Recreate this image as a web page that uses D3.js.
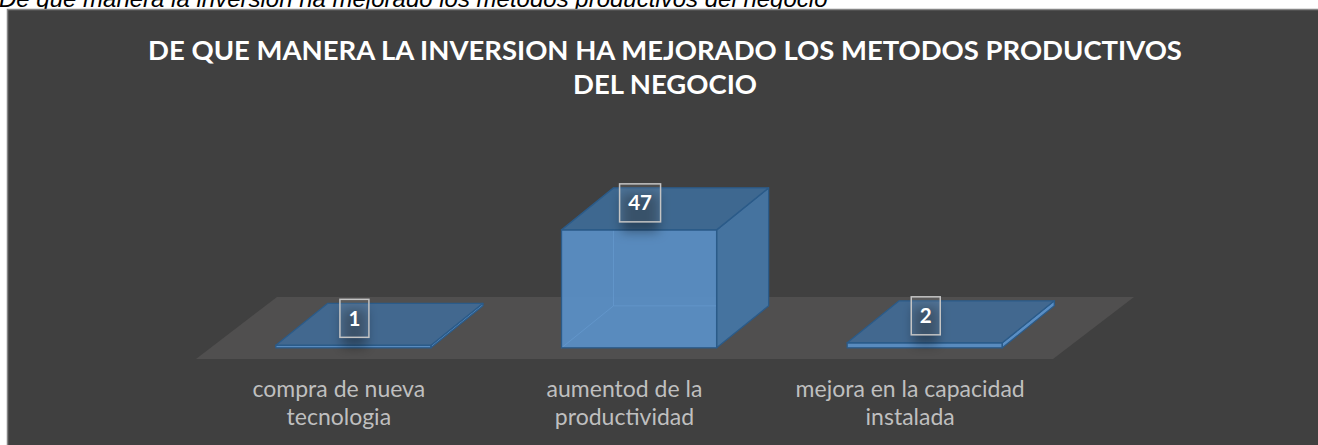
<!DOCTYPE html>
<html>
<head>
<meta charset="utf-8">
<script src="https://cdn.jsdelivr.net/npm/d3@7"></script>
<style>
    html, body { margin: 0; padding: 0; background: #fff; overflow: hidden; }
    svg { display: block; }
</style>
</head>
<body>
<svg id="chart" width="1318" height="445"></svg>
<script>
// chart data
var caption    = 'De que manera la inversion ha mejorado los metodos productivos del negocio';
var titleLines = ['DE QUE MANERA LA INVERSION HA MEJORADO LOS METODOS PRODUCTIVOS', 'DEL NEGOCIO'];
var categories = ['compra de nueva tecnologia', 'aumentod de la productividad', 'mejora en la capacidad instalada'];
var values     = [1, 47, 2];
var valueMax   = 50;

(function (d3) {
    'use strict';

    var WIDTH        = 1318,
        HEIGHT       = 445,
        FLOOR_LEFT   = 196,
        FLOOR_RIGHT  = 1053,
        FLOOR_BOTTOM = 359,
        FLOOR_DX     = 81,
        FLOOR_DY     = -62,
        BAR_FRONT    = 0.18,   // depth fraction where the bar front sits
        BAR_DX       = 52,
        BAR_DY       = -42,
        BAR_RATIO    = 0.543,
        FONT         = 'Lato, "Open Sans", sans-serif';

    var svg = d3.select('#chart');

    var defs = svg.append('defs');
    defs.append('filter')
        .attr('id', 'label-shadow')
        .attr('x', '-50%').attr('y', '-50%')
        .attr('width', '200%').attr('height', '200%')
        .append('feGaussianBlur')
        .attr('stdDeviation', 6);

    // caption above the chart (its top is cut off, as in the document)
    svg.append('text')
        .attr('x', -1)
        .attr('y', 7)
        .attr('font-family', '"Liberation Sans", Arial, sans-serif')
        .attr('font-style', 'italic')
        .attr('font-size', 24)
        .attr('fill', '#000')
        .text(caption);

    // chart area
    svg.append('rect')
        .attr('x', 7.5)
        .attr('y', 9.5)
        .attr('width', WIDTH)
        .attr('height', HEIGHT)
        .attr('fill', '#404040')
        .attr('stroke', '#858585')
        .attr('stroke-width', 1.5);

    // title, fitted to the width of the first line
    var titleGroup = svg.append('g');
    titleLines.forEach(function (line, i) {
        titleGroup.append('text')
            .attr('x', 665)
            .attr('y', 60 + 34 * i)
            .attr('text-anchor', 'middle')
            .attr('font-family', FONT)
            .attr('font-weight', 'bold')
            .attr('font-size', 26)
            .attr('fill', '#fff')
            .text(line);
    });
    var firstWidth = titleGroup.select('text').node().getComputedTextLength();
    titleGroup.selectAll('text').attr('font-size', 26 * 1034 / firstWidth);

    var x = d3.scaleBand()
        .domain(categories)
        .range([FLOOR_LEFT, FLOOR_RIGHT])
        .padding(0);

    var y = d3.scaleLinear()
        .domain([0, valueMax])
        .range([0, 125.5]);

    // floor
    svg.append('path')
        .attr('d', d3.line()([
            [FLOOR_LEFT, FLOOR_BOTTOM],
            [FLOOR_RIGHT, FLOOR_BOTTOM],
            [FLOOR_RIGHT + FLOOR_DX, FLOOR_BOTTOM + FLOOR_DY],
            [FLOOR_LEFT + FLOOR_DX, FLOOR_BOTTOM + FLOOR_DY]
        ]) + 'Z')
        .attr('fill', '#504f4f');

    var barWidth = x.bandwidth() * BAR_RATIO,
        baseY    = FLOOR_BOTTOM + FLOOR_DY * BAR_FRONT,
        shiftX   = FLOOR_DX * BAR_FRONT;

    function poly(points) {
        return d3.line()(points) + 'Z';
    }

    var bars = svg.selectAll('g.bar')
        .data(categories)
        .enter()
        .append('g')
        .attr('class', 'bar');

    bars.each(function (c, i) {
        var g  = d3.select(this),
            x0 = x(c) + x.bandwidth() / 2 - barWidth / 2 + shiftX,
            x1 = x0 + barWidth,
            h  = y(values[i]),
            yb = baseY,
            yt = yb - h;

        // front face
        g.append('rect')
            .attr('x', x0).attr('y', yt)
            .attr('width', barWidth).attr('height', h)
            .attr('fill', '#5a8ec4')
            .attr('fill-opacity', 0.95);

        // hidden edges seen through the face
        if (h > 20) {
            g.append('path')
                .attr('d', d3.line()([
                    [x0 + BAR_DX, yt + BAR_DY],
                    [x0 + BAR_DX, yb + BAR_DY],
                    [x0, yb]
                ]) + 'M' + (x0 + BAR_DX) + ',' + (yb + BAR_DY) + 'L' + (x1 + BAR_DX) + ',' + (yb + BAR_DY))
                .attr('fill', 'none')
                .attr('stroke', '#6a9fd4')
                .attr('stroke-opacity', 0.55)
                .attr('stroke-width', 1);
        }

        // side face
        g.append('path')
            .attr('d', poly([[x1, yb], [x1 + BAR_DX, yb + BAR_DY], [x1 + BAR_DX, yt + BAR_DY], [x1, yt]]))
            .attr('fill', h > 20 ? '#45739f' : '#5a8ec4')
            .attr('stroke', '#2b5b89')
            .attr('stroke-width', 1.3)
            .attr('stroke-linejoin', 'round');

        // top face
        g.append('path')
            .attr('d', poly([[x0, yt], [x1, yt], [x1 + BAR_DX, yt + BAR_DY], [x0 + BAR_DX, yt + BAR_DY]]))
            .attr('fill', h > 20 ? '#3e6890' : '#42688f')
            .attr('stroke', '#2b5b89')
            .attr('stroke-width', 1.3)
            .attr('stroke-linejoin', 'round');

        // front outline on top of everything
        g.append('rect')
            .attr('x', x0).attr('y', yt)
            .attr('width', barWidth).attr('height', h)
            .attr('fill', 'none')
            .attr('stroke', '#2b5b89')
            .attr('stroke-width', 1.3);

        // data label
        var cx    = x0 + barWidth / 2 + 1,
            cy    = yt + BAR_DY / 2 - 6,
            label = String(values[i]),
            boxW  = label.length * 12 + 17,
            boxH  = 38;

        g.append('rect')
            .attr('x', cx - boxW / 2 + 2)
            .attr('y', cy - boxH / 2 + 10)
            .attr('width', boxW - 4)
            .attr('height', boxH)
            .attr('fill', '#000')
            .attr('fill-opacity', 0.35)
            .attr('filter', 'url(#label-shadow)');

        g.append('rect')
            .attr('x', cx - boxW / 2)
            .attr('y', cy - boxH / 2)
            .attr('width', boxW)
            .attr('height', boxH)
            .attr('fill', '#fff')
            .attr('fill-opacity', 0.08)
            .attr('stroke', '#c4c4c4')
            .attr('stroke-width', 1.5);

        g.append('text')
            .attr('x', cx)
            .attr('y', cy + 7.5)
            .attr('text-anchor', 'middle')
            .attr('font-family', FONT)
            .attr('font-weight', 'bold')
            .attr('font-size', 20.5)
            .attr('fill', '#fff')
            .text(label);
    });

    /**
     * wrap a category name into lines no wider than maxWidth
     */
    function wrapLabel(text, maxWidth) {
        var probe = svg.append('text')
                .attr('font-family', FONT)
                .attr('font-size', 23),
            words = text.split(' '),
            lines = [],
            cur   = words[0];
        for (var k = 1; k < words.length; k++) {
            probe.text(cur + ' ' + words[k]);
            if (probe.node().getComputedTextLength() > maxWidth) {
                lines.push(cur);
                cur = words[k];
            } else {
                cur += ' ' + words[k];
            }
        }
        lines.push(cur);
        probe.remove();
        return lines;
    }

    // category axis labels
    categories.forEach(function (c) {
        var lines = wrapLabel(c, x.bandwidth() * 0.85);
        lines.forEach(function (line, j) {
            svg.append('text')
                .attr('x', x(c) + x.bandwidth() / 2)
                .attr('y', 397 + 28 * j)
                .attr('text-anchor', 'middle')
                .attr('font-family', FONT)
                .attr('font-size', 23)
                .attr('fill', '#bfbfbf')
                .text(line);
        });
    });

})(d3);
</script>
</body>
</html>
